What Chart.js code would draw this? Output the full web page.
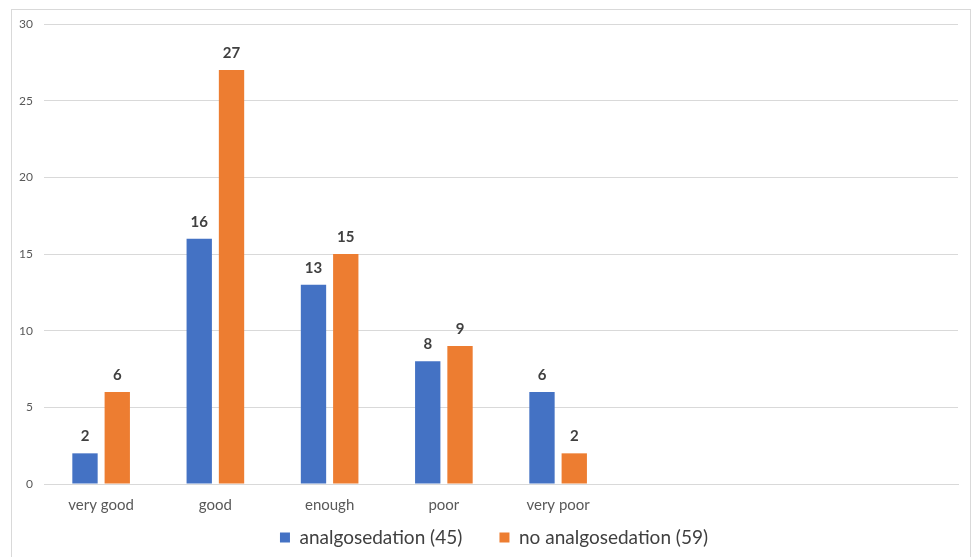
<!DOCTYPE html>
<html>
<head>
<meta charset="utf-8">
<script src="https://cdn.jsdelivr.net/npm/chart.js@4.4.1/dist/chart.umd.min.js"></script>
<style>
    body { margin: 0; background: #fff; overflow: hidden; }
    #frame { position: absolute; left: 11px; top: 9px; width: 958px; height: 600px; border: 1px solid #d9d9d9; }
    #wrap { position: absolute; left: 0; top: 0; width: 972px; height: 557px; }
</style>
</head>
<body>
<div id="frame"></div>
<div id="wrap"><canvas id="chart"></canvas></div>
<script>
// categories (the last three slots are empty in the original)
const categories = ["very good", "good", "enough", "poor", "very poor", "", "", ""];
const analgosedation = [2, 16, 13, 8, 6, null, null, null];
const noAnalgosedation = [6, 27, 15, 9, 2, null, null, null];
const yMax = 30;
const yStep = 5;

// value labels above each bar
const barLabels = {
    id: "barLabels",
    afterDatasetsDraw(chart) {
        const ctx = chart.ctx;
        ctx.save();
        ctx.font = "bold 15px Lato";
        ctx.fillStyle = "#404040";
        ctx.textAlign = "center";
        ctx.textBaseline = "middle";
        chart.data.datasets.forEach((ds, i) => {
            chart.getDatasetMeta(i).data.forEach((bar, j) => {
                const v = ds.data[j];
                if (v === null) return;
                ctx.fillText(v, bar.x, bar.y - 17);
            });
        });
        ctx.restore();
    }
};

// nudge the legend a bit to the right, as in the original
const legendShift = {
    id: "legendShift",
    afterLayout(chart) {
        if (chart.legend) {
            chart.legend.left += 15;
            chart.legend.right += 15;
        }
    }
};

document.addEventListener("DOMContentLoaded", () => {
    const ctx = document.getElementById("chart").getContext("2d");
    new Chart(ctx, {
        type: "bar",
        data: {
            labels: categories,
            datasets: [{
                // trailing spaces widen the gap between the two legend items
                label: "analgosedation (45)      ",
                data: analgosedation,
                backgroundColor: "#4472C4",
                categoryPercentage: 0.565,
                barPercentage: 0.785
            }, {
                label: "no analgosedation (59)",
                data: noAnalgosedation,
                backgroundColor: "#ED7D31",
                categoryPercentage: 0.565,
                barPercentage: 0.785
            }]
        },
        options: {
            responsive: true,
            maintainAspectRatio: false,
            animation: false,
            layout: { padding: { left: 0, right: 14, top: 24, bottom: 0 } },
            scales: {
                x: {
                    grid: { display: false },
                    border: { color: "#d9d9d9" },
                    ticks: { color: "#595959", font: { family: "Lato", size: 15 }, padding: 4, maxRotation: 0 },
                    afterFit: (scale) => { scale.height = 36; }
                },
                y: {
                    min: 0,
                    max: yMax,
                    grid: { color: "#d9d9d9", drawTicks: false },
                    border: { display: false },
                    ticks: { stepSize: yStep, color: "#595959", font: { family: "Lato", size: 12 }, padding: 11 },
                    afterFit: (scale) => { scale.width = 44; }
                }
            },
            plugins: {
                legend: {
                    position: "bottom",
                    labels: {
                        color: "#404040",
                        font: { family: "Lato", size: 19 },
                        boxWidth: 10,
                        boxHeight: 10,
                        padding: 8
                    }
                },
                tooltip: { enabled: false }
            }
        },
        plugins: [barLabels, legendShift]
    });
});
</script>
</body>
</html>
